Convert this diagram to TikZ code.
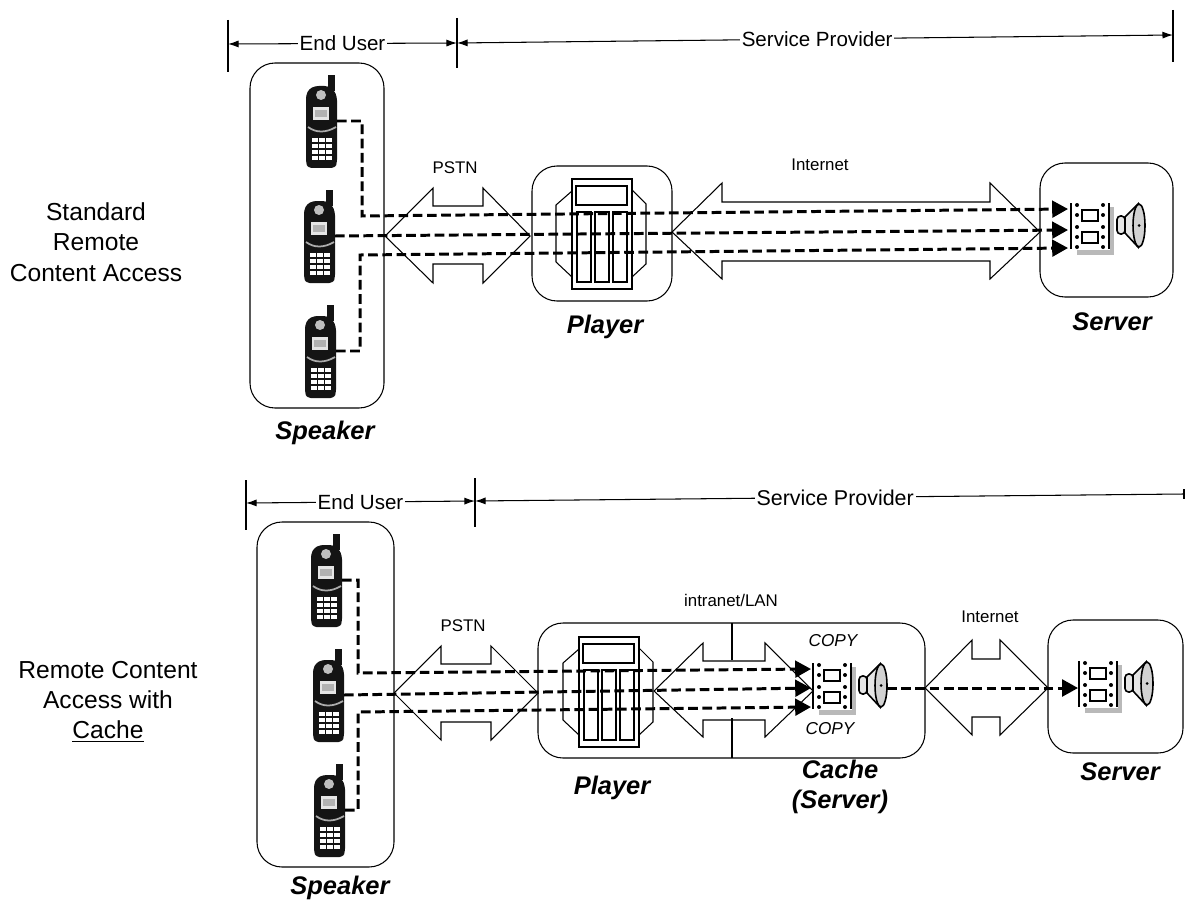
\documentclass[tikz,border=0pt]{standalone}
\usepackage{fontspec}
\setmainfont{Liberation Sans}
\usetikzlibrary{arrows.meta}
\newcommand{\phone}[3]{%
  \begin{scope}[shift={(#1,#2)}]
  \fill[black!92, rounded corners=2pt] (0,20) -- (0,88) -- (2,93) -- (29,93) -- (31,88) -- (31,22)
    -- (28,15) -- (22,11) -- (9,11) -- (3,14) -- cycle;
  \fill[black!92] (22,0) rectangle (29,16);
  \fill[gray!50] (15,20) circle (5);
  \fill[gray!20] (7,32) rectangle (23,45);
  \fill[gray!60] (9,35) rectangle (21,42);
  \draw[gray!65, line width=1pt] (2,52) .. controls (10,58) and (20,58) .. (30,52);
  \foreach \keyx in {9,16,23}
    \foreach \keyy in {65,71,77,83}
      \fill[white] ({\keyx-3},{\keyy-1.7}) rectangle ({\keyx+3},{\keyy+1.7});
  \coordinate (#3) at (31,46);
  \end{scope}}
\newcommand{\player}[2]{%
  \begin{scope}[shift={(#1,#2)}]
  \draw[thinline] (0,12) -- (-16,26) -- (-16,83) -- (0,98);
  \draw[thinline] (60,11) -- (74,25) -- (74,85) -- (60,98);
  \draw[thinline] (0,0) rectangle (60,110);
  \draw[thinline] (4,7) rectangle (55,26);
  \draw[thinline] (5,33) rectangle (19,103);
  \draw[thinline] (23,33) rectangle (37,103);
  \draw[thinline] (41,33) rectangle (55,103);
  \end{scope}}
\newcommand{\film}[2]{%
  \begin{scope}[shift={(#1,#2)}]
  \draw[line width=0.9pt] (0,0) -- (0,46);
  \draw[line width=0.9pt] (38,0) -- (38,46);
  \fill[gray!55] (39,4) rectangle (43,52);
  \fill[gray!55] (6,47) rectangle (43,52);
  \draw[thinline] (11,7) rectangle (27,18);
  \draw[thinline] (11,29) rectangle (27,40);
  \foreach \dotx in {6,32}
    \foreach \doty in {2,12,24,34,44}
      \fill (\dotx,\doty) circle (2);
  \draw[line width=0.9pt, fill=gray!20, rounded corners=2pt] (46,13) rectangle (54,31);
  \draw[line width=0.9pt, fill=gray!20] (54,14) -- (67,1) -- (67,44) -- (54,30) -- cycle;
  \draw[line width=0.9pt, fill=gray!35] (68,22.5) ellipse (6 and 21.5);
  \fill (68,22.5) circle (1.5);
  \end{scope}}
\newcommand{\pipe}[9]{%
  \draw[thinline] (#1,#9) -- (#2,#5) -- (#2,#6) -- (#3,#6) -- (#3,#5) -- (#4,#9)
    -- (#3,#8) -- (#3,#7) -- (#2,#7) -- (#2,#8) -- cycle;}

\begin{document}
\begin{tikzpicture}[x=0.02cm, y=-0.02cm,
  thinline/.style={line width=0.6pt},
  dashline/.style={line width=1.7pt, dash pattern=on 5.5pt off 2.6pt},
  tipline/.style={dashline, -{Triangle[length=9pt, width=9.5pt]}},
  spanline/.style={thinline, {Latex[length=6pt, width=4pt]}-{Latex[length=6pt, width=4pt]}},
  spantext/.style={fill=white, inner xsep=1pt, inner ysep=2pt, font=\fontsize{11.7}{14}\selectfont},
  sidetext/.style={align=center, font=\fontsize{14}{17.2}\selectfont},
  boxtext/.style={align=center, font=\fontsize{14.5}{17}\selectfont\bfseries\itshape},
  smalltext/.style={font=\fontsize{9.6}{12}\selectfont},
  copytext/.style={font=\fontsize{9.8}{12}\selectfont\itshape},
  roundbox/.style={thinline, rounded corners=25*0.02cm}]
\useasboundingbox (0,0) rectangle (1185,902);

% ---- Standard remote access ----
\node[sidetext] (topside) at (96,242) {Standard\\Remote\\Content Access};
\coordinate (userL) at (228,44);
\coordinate (userR) at (457,43);
\coordinate (provR) at (1173,35);
\draw[thinline] (228,20) -- (228,72);
\draw[thinline] (457,18) -- (457,68);
\draw[thinline] (1173,10) -- (1173,62);
\draw[spanline] (userL) -- node[spantext] (topuser) {End User} (userR);
\draw[spanline] (userR) -- node[spantext, pos=0.503] (topprov) {Service Provider} (provR);

\draw[roundbox] (250,63) rectangle (384,408);
\draw[roundbox] (532,166) rectangle (672,301);
\draw[roundbox] (1040,163) rectangle (1173,297);
\phone{306}{75}{phoneA}
\phone{304}{190}{phoneB}
\phone{305}{305}{phoneC}
\player{572}{179}
\film{1071}{203}
\pipe{385}{433}{483}{530}{188}{206}{264}{283}{236}
\pipe{672}{722}{990}{1040}{183}{202}{261}{279}{232}
\node[smalltext] (toppstn) at (455,168) {PSTN};
\node[smalltext] (topnet) at (820,165) {Internet};
\node[boxtext] (topspeaker) at (325,433) {Speaker};
\node[boxtext] (topplayer) at (605,327) {Player};
\node[boxtext] (topserver) at (1112,322) {Server};

\coordinate (turnA) at (362,216);
\coordinate (turnC) at (360,255);
\coordinate (inA) at (1068,209);
\coordinate (inB) at (1068,230);
\coordinate (inC) at (1068,248);
\draw[tipline] (phoneA) -| (turnA) -- (inA);
\draw[tipline] (phoneB) -- (inB);
\draw[tipline] (phoneC) -| (turnC) -- (inC);

% ---- Access with cache ----
\node[sidetext] (lowside) at (108,702) {Remote Content\\Access with\\\underline{Cache}};
\coordinate (luserL) at (246,503);
\coordinate (luserR) at (475,501);
\coordinate (lprovR) at (1184,494);
\draw[thinline] (246,480) -- (246,530);
\draw[thinline] (475,478) -- (475,527);
\draw[thinline] (1184,489) -- (1184,499);
\draw[spanline] (luserL) -- node[spantext] (lowuser) {End User} (luserR);
\draw[thinline, {Latex[length=6pt, width=4pt]}-] (luserR) -- node[spantext, pos=0.508, font=\fontsize{12.2}{14}\selectfont] (lowprov) {Service Provider} (lprovR);

\draw[roundbox] (257,522) rectangle (394,867);
\draw[roundbox] (538,623) rectangle (925,758);
\draw[roundbox] (1048,620) rectangle (1183,753);
\draw[thinline] (732,623) -- (732,660);
\draw[thinline] (732,718) -- (732,758);
\phone{311}{534}{phoneD}
\phone{313}{649}{phoneE}
\phone{314}{764}{phoneF}
\player{579}{637}
\film{813}{663}
\film{1079}{661}
\pipe{394}{441}{491}{538}{646}{664}{722}{740}{693}
\pipe{654}{703}{765}{813}{643}{661}{720}{737}{691}
\pipe{925}{972}{1000}{1048}{640}{659}{717}{735}{688}
\node[smalltext] (lowpstn) at (463,626) {PSTN};
\node[smalltext] (lowlan) at (731,600) {intranet/LAN};
\node[smalltext] (lownet) at (990,617) {Internet};
\node[copytext] (copyup) at (833,641) {COPY};
\node[copytext] (copydown) at (830,729) {COPY};
\node[boxtext] (lowspeaker) at (340,888) {Speaker};
\node[boxtext] (lowplayer) at (612,788) {Player};
\node[boxtext] (lowcache) at (840,787) {Cache\\(Server)};
\node[boxtext] (lowserver) at (1120,772) {Server};

\coordinate (turnD) at (358,673);
\coordinate (turnF) at (358,712);
\coordinate (inD) at (811,669);
\coordinate (inE) at (811,688);
\coordinate (inF) at (811,707);
\coordinate (hornout) at (887,688);
\coordinate (inG) at (1078,688);
\draw[tipline] (phoneD) -| (turnD) -- (inD);
\draw[tipline] (phoneE) -- (inE);
\draw[tipline] (phoneF) -| (turnF) -- (inF);
\draw[tipline] (hornout) -- (inG);

\end{tikzpicture}
\end{document}
